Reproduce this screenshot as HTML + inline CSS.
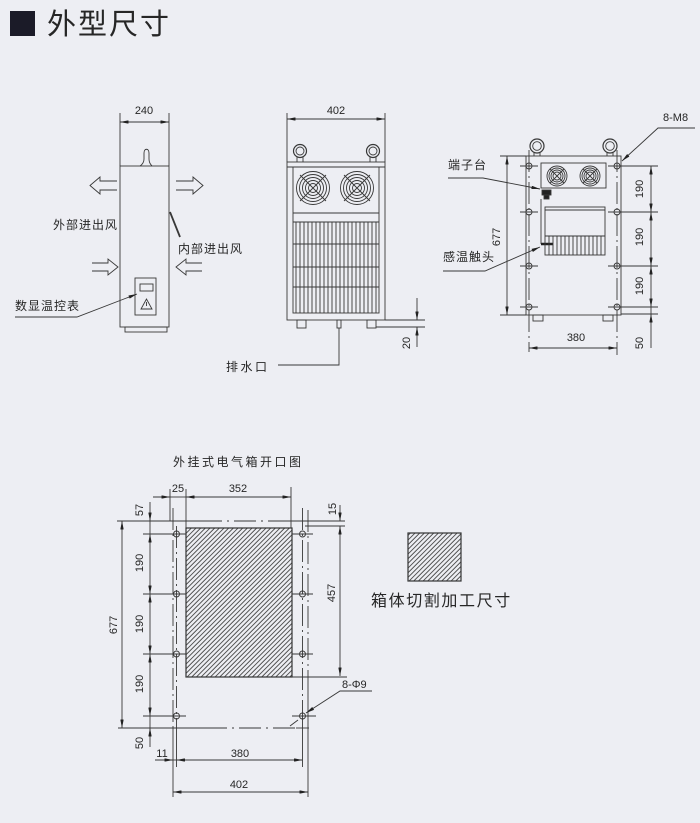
<!DOCTYPE html>
<html><head><meta charset="utf-8"><style>
html,body{margin:0;padding:0;background:#edeef3;}
svg{display:block;}
text{font-family:"Liberation Sans","Noto Sans CJK SC",sans-serif;fill:#262626;}
</style></head><body>
<svg width="700" height="823" viewBox="0 0 700 823" xmlns="http://www.w3.org/2000/svg">
<defs>
<marker id="ar" viewBox="0 0 10 4" refX="10" refY="2" markerWidth="9" markerHeight="3.4" orient="auto-start-reverse" markerUnits="userSpaceOnUse"><path d="M0,0L10,2L0,4z" fill="#222"/></marker>
<pattern id="h" width="3.3" height="3.3" patternUnits="userSpaceOnUse" patternTransform="rotate(45)"><line x1="0.5" y1="0" x2="0.5" y2="3.3" stroke="#444" stroke-width="0.9"/></pattern>
</defs>
<rect width="700" height="823" fill="#edeef3"/>

<!-- Title -->
<rect x="10" y="11" width="25" height="25" fill="#1b1b28"/>
<text x="47" y="34" font-size="29" letter-spacing="2">外型尺寸</text>

<g stroke="#383838" stroke-width="0.9" fill="none">
<!-- ===== Side view ===== -->
<line x1="120" y1="113" x2="120" y2="166"/>
<line x1="169" y1="113" x2="169" y2="166"/>
<line x1="120" y1="122" x2="169" y2="122" marker-start="url(#ar)" marker-end="url(#ar)"/>
<rect x="120" y="166" width="49" height="161"/>
<rect x="125" y="327" width="42" height="5"/>
<path d="M140,166 C143,164 144,162 144,159 L144,153 C144,148 149,148 149,153 L149,159 C149,162 150,164 152,166"/>
<path d="M117,181 L100,181 L100,177 L90,185.5 L100,194 L100,190 L117,190"/>
<path d="M176,181 L193,181 L193,177 L203,185.5 L193,194 L193,190 L176,190"/>
<path d="M92,263 L108,263 L108,259 L118,267 L108,275 L108,271 L92,271"/>
<path d="M202,263 L186,263 L186,259 L176,267 L186,275 L186,271 L202,271"/>
<line x1="170" y1="212" x2="180" y2="237" stroke-width="1.8"/>
<rect x="135" y="278" width="21" height="37"/>
<rect x="140" y="284" width="13" height="7"/>
<path d="M146.5,299 L141,309 L152,309 Z"/>
<line x1="146.5" y1="302" x2="146.5" y2="306"/>
<path d="M15,317 L77,317 L137,294" marker-end="url(#ar)"/>

<!-- ===== Front view ===== -->
<line x1="287" y1="113" x2="287" y2="162"/>
<line x1="385" y1="113" x2="385" y2="162"/>
<line x1="287" y1="119" x2="385" y2="119" marker-start="url(#ar)" marker-end="url(#ar)"/>
<circle cx="300" cy="151" r="6.5" stroke-width="1.2"/>
<circle cx="300" cy="151" r="4"/>
<path d="M297,157 L297,162 M303,157 L303,162"/>
<circle cx="373" cy="151" r="6.5" stroke-width="1.2"/>
<circle cx="373" cy="151" r="4"/>
<path d="M370,157 L370,162 M376,157 L376,162"/>
<rect x="287" y="162" width="98" height="158"/>
<line x1="287" y1="167" x2="385" y2="167"/>
<rect x="293" y="167" width="86" height="146"/>
<g transform="translate(313,188)">
<circle r="16.5"/><circle r="13.5"/><circle r="10.5"/><circle r="7.5"/><circle r="4.5"/>
<path d="M-13,-13 L13,13 M-13,13 L13,-13"/>
</g>
<g transform="translate(357,188)">
<circle r="16.5"/><circle r="13.5"/><circle r="10.5"/><circle r="7.5"/><circle r="4.5"/>
<path d="M-13,-13 L13,13 M-13,13 L13,-13"/>
</g>
<line x1="293" y1="213" x2="379" y2="213"/>
<line x1="293" y1="222" x2="379" y2="222"/>
<path d="M296,222V313 M300,222V313 M304,222V313 M308,222V313 M312,222V313 M316,222V313 M320,222V313 M324,222V313 M328,222V313 M332,222V313 M336,222V313 M340,222V313 M344,222V313 M348,222V313 M352,222V313 M356,222V313 M360,222V313 M364,222V313 M368,222V313 M372,222V313 M376,222V313"/>
<path d="M293,244H379 M293,267H379 M293,287H379"/>
<rect x="297" y="320" width="9" height="8"/>
<rect x="367" y="320" width="9" height="8"/>
<rect x="337" y="320" width="4" height="8"/>
<path d="M339,328 L339,365 L278,365"/>
<line x1="385" y1="320" x2="425" y2="320"/>
<line x1="376" y1="327" x2="425" y2="327"/>
<line x1="417" y1="298" x2="417" y2="320" marker-end="url(#ar)"/>
<line x1="417" y1="347" x2="417" y2="327" marker-end="url(#ar)"/>

<!-- ===== Right view ===== -->
<circle cx="537" cy="146" r="7" stroke-width="1.2"/>
<circle cx="537" cy="146" r="4.3"/>
<path d="M534,152.5 L534,156 M540,152.5 L540,156"/>
<circle cx="610" cy="146" r="7" stroke-width="1.2"/>
<circle cx="610" cy="146" r="4.3"/>
<path d="M607,152.5 L607,156 M613,152.5 L613,156"/>
<rect x="526" y="156" width="95" height="159"/>
<rect x="541" y="163" width="65" height="25"/>
<g transform="translate(557,176)">
<circle r="10"/><circle r="8"/><circle r="6"/><circle r="4"/>
<path d="M-7,-7 L7,7 M-7,7 L7,-7"/>
</g>
<g transform="translate(590,176)">
<circle r="10"/><circle r="8"/><circle r="6"/><circle r="4"/>
<path d="M-7,-7 L7,7 M-7,7 L7,-7"/>
</g>
<rect x="542" y="190" width="9" height="5" fill="#222"/>
<rect x="544" y="195" width="5" height="4" fill="#222"/>
<line x1="541" y1="199" x2="541" y2="244"/>
<line x1="541" y1="244" x2="553" y2="244" stroke-width="2.5" stroke="#222"/>
<rect x="545" y="207" width="60" height="48"/>
<line x1="545" y1="210" x2="605" y2="210"/>
<line x1="545" y1="236" x2="605" y2="236"/>
<path d="M549,236V255 M553,236V255 M557,236V255 M561,236V255 M565,236V255 M569,236V255 M573,236V255 M577,236V255 M581,236V255 M585,236V255 M589,236V255 M593,236V255 M597,236V255 M601,236V255"/>
<rect x="533" y="315" width="10" height="6"/>
<rect x="603" y="315" width="10" height="6"/>
<path d="M448,178 L483,178 L540,189" marker-end="url(#ar)"/>
<path d="M443,271 L485,271 L540,247" marker-end="url(#ar)"/>
<path d="M695,128 L658,128 L622,161" marker-end="url(#ar)"/>
<line x1="500" y1="156" x2="526" y2="156"/>
<line x1="500" y1="315" x2="526" y2="315"/>
<line x1="507" y1="156" x2="507" y2="315" marker-start="url(#ar)" marker-end="url(#ar)"/>
<line x1="529" y1="150" x2="529" y2="352" stroke-dasharray="22,4,2,4"/>
<line x1="617" y1="150" x2="617" y2="355" stroke-dasharray="22,4,2,4"/>
<g>
<circle cx="529" cy="166" r="3"/><circle cx="529" cy="212" r="3"/><circle cx="529" cy="266" r="3"/><circle cx="529" cy="307" r="3"/>
<circle cx="617" cy="166" r="3"/><circle cx="617" cy="212" r="3"/><circle cx="617" cy="266" r="3"/><circle cx="617" cy="307" r="3"/>
<path d="M520,166H538 M520,212H538 M520,266H538 M520,307H538"/>
<path d="M608,166H658 M608,212H658 M608,266H658 M608,307H658 M621,314H658"/>
</g>
<line x1="651" y1="166" x2="651" y2="212" marker-start="url(#ar)" marker-end="url(#ar)"/>
<line x1="651" y1="212" x2="651" y2="266" marker-start="url(#ar)" marker-end="url(#ar)"/>
<line x1="651" y1="266" x2="651" y2="307" marker-start="url(#ar)" marker-end="url(#ar)"/>
<line x1="651" y1="307" x2="651" y2="314"/>
<line x1="651" y1="348" x2="651" y2="314" marker-end="url(#ar)"/>
<line x1="529" y1="348" x2="617" y2="348" marker-start="url(#ar)" marker-end="url(#ar)"/>

<!-- ===== Bottom cutout drawing ===== -->
<rect x="186" y="528" width="106" height="149" fill="url(#h)" stroke="#333" stroke-width="1.2"/>
<line x1="153" y1="497" x2="170" y2="497" marker-end="url(#ar)"/>
<line x1="170" y1="497" x2="186" y2="497"/>
<line x1="186" y1="497" x2="291" y2="497" marker-start="url(#ar)" marker-end="url(#ar)"/>
<line x1="170" y1="489" x2="170" y2="521"/>
<line x1="186" y1="489" x2="186" y2="528"/>
<line x1="291" y1="487" x2="291" y2="528"/>
<path d="M117,521 H200" />
<line x1="200" y1="521" x2="290" y2="521" stroke-dasharray="22,5,2,5"/>
<path d="M290,521 H345"/>
<line x1="305" y1="526" x2="345" y2="526"/>
<line x1="340" y1="505" x2="340" y2="521" marker-end="url(#ar)"/>
<line x1="340" y1="526" x2="340" y2="676" marker-start="url(#ar)" marker-end="url(#ar)"/>
<line x1="292" y1="677" x2="347" y2="677"/>
<line x1="122" y1="521" x2="122" y2="728" marker-start="url(#ar)" marker-end="url(#ar)"/>
<line x1="150" y1="502" x2="150" y2="521" marker-end="url(#ar)"/>
<line x1="150" y1="521" x2="150" y2="534"/>
<line x1="150" y1="534" x2="150" y2="594" marker-start="url(#ar)" marker-end="url(#ar)"/>
<line x1="150" y1="594" x2="150" y2="654" marker-start="url(#ar)" marker-end="url(#ar)"/>
<line x1="150" y1="654" x2="150" y2="716" marker-start="url(#ar)" marker-end="url(#ar)"/>
<line x1="150" y1="716" x2="150" y2="728"/>
<line x1="150" y1="747" x2="150" y2="728" marker-end="url(#ar)"/>
<path d="M143,534H186 M143,594H186 M143,654H186 M143,716H186"/>
<path d="M292,534H313 M292,594H313 M292,654H313 M292,716H316"/>
<path d="M118,728 H205"/>
<line x1="205" y1="728" x2="296" y2="728" stroke-dasharray="22,5,2,5"/>
<path d="M296,728 H309"/>
<line x1="173" y1="508" x2="173" y2="728" stroke-dasharray="22,4,2,4"/>
<line x1="176.5" y1="526" x2="176.5" y2="720" stroke-dasharray="22,4,2,4"/>
<line x1="302.5" y1="508" x2="302.5" y2="720" stroke-dasharray="22,4,2,4"/>
<line x1="308" y1="510" x2="308" y2="690" stroke-dasharray="22,4,2,4"/>
<line x1="173" y1="728" x2="173" y2="797"/>
<line x1="176.5" y1="720" x2="176.5" y2="767"/>
<line x1="302.5" y1="720" x2="302.5" y2="767"/>
<line x1="308" y1="690" x2="308" y2="797"/>
<circle cx="176.5" cy="534" r="3"/><circle cx="176.5" cy="594" r="3"/><circle cx="176.5" cy="654" r="3"/><circle cx="176.5" cy="716" r="3"/>
<circle cx="302.5" cy="534" r="3"/><circle cx="302.5" cy="594" r="3"/><circle cx="302.5" cy="654" r="3"/><circle cx="302.5" cy="716" r="3"/>
<line x1="155" y1="760" x2="173" y2="760" marker-end="url(#ar)"/>
<line x1="173" y1="760" x2="176.5" y2="760"/>
<line x1="176.5" y1="760" x2="302.5" y2="760" marker-start="url(#ar)" marker-end="url(#ar)"/>
<line x1="173" y1="792" x2="308" y2="792" marker-start="url(#ar)" marker-end="url(#ar)"/>
<path d="M372,691 L340,691 L306,713" marker-end="url(#ar)"/>
<line x1="290" y1="726" x2="298" y2="720"/>
<rect x="408" y="533" width="53" height="48" fill="url(#h)" stroke="#333" stroke-width="1.2"/>
</g>

<!-- Texts -->
<g font-size="11">
<text x="144" y="114" text-anchor="middle">240</text>
<text x="336" y="114" text-anchor="middle">402</text>
<text x="663" y="121">8-M8</text>
<text x="576" y="341" text-anchor="middle">380</text>
<text x="178" y="492" text-anchor="middle">25</text>
<text x="238" y="492" text-anchor="middle">352</text>
<text x="162" y="757" text-anchor="middle">11</text>
<text x="240" y="757" text-anchor="middle">380</text>
<text x="239" y="788" text-anchor="middle">402</text>
<text x="342" y="688">8-Φ9</text>
<text transform="translate(407,343) rotate(-90)" text-anchor="middle" dominant-baseline="central">20</text>
<text transform="translate(497,237) rotate(-90)" text-anchor="middle" dominant-baseline="central">677</text>
<text transform="translate(640,189) rotate(-90)" text-anchor="middle" dominant-baseline="central">190</text>
<text transform="translate(640,237) rotate(-90)" text-anchor="middle" dominant-baseline="central">190</text>
<text transform="translate(640,286) rotate(-90)" text-anchor="middle" dominant-baseline="central">190</text>
<text transform="translate(640,343) rotate(-90)" text-anchor="middle" dominant-baseline="central">50</text>
<text transform="translate(333,509) rotate(-90)" text-anchor="middle" dominant-baseline="central">15</text>
<text transform="translate(332,593) rotate(-90)" text-anchor="middle" dominant-baseline="central">457</text>
<text transform="translate(114,625) rotate(-90)" text-anchor="middle" dominant-baseline="central">677</text>
<text transform="translate(140,510) rotate(-90)" text-anchor="middle" dominant-baseline="central">57</text>
<text transform="translate(140,563) rotate(-90)" text-anchor="middle" dominant-baseline="central">190</text>
<text transform="translate(140,624) rotate(-90)" text-anchor="middle" dominant-baseline="central">190</text>
<text transform="translate(140,684) rotate(-90)" text-anchor="middle" dominant-baseline="central">190</text>
<text transform="translate(140,743) rotate(-90)" text-anchor="middle" dominant-baseline="central">50</text>
</g>
<g font-size="12" letter-spacing="1">
<text x="53" y="229">外部进出风</text>
<text x="178" y="253">内部进出风</text>
<text x="15" y="310">数显温控表</text>
<text x="448" y="169">端子台</text>
<text x="443" y="261">感温触头</text>
<text x="226" y="371" letter-spacing="2.5">排水口</text>
<text x="173" y="466" letter-spacing="2.5">外挂式电气箱开口图</text>
</g>
<text x="371" y="606" font-size="16" letter-spacing="1.6">箱体切割加工尺寸</text>
</svg>
</body></html>
